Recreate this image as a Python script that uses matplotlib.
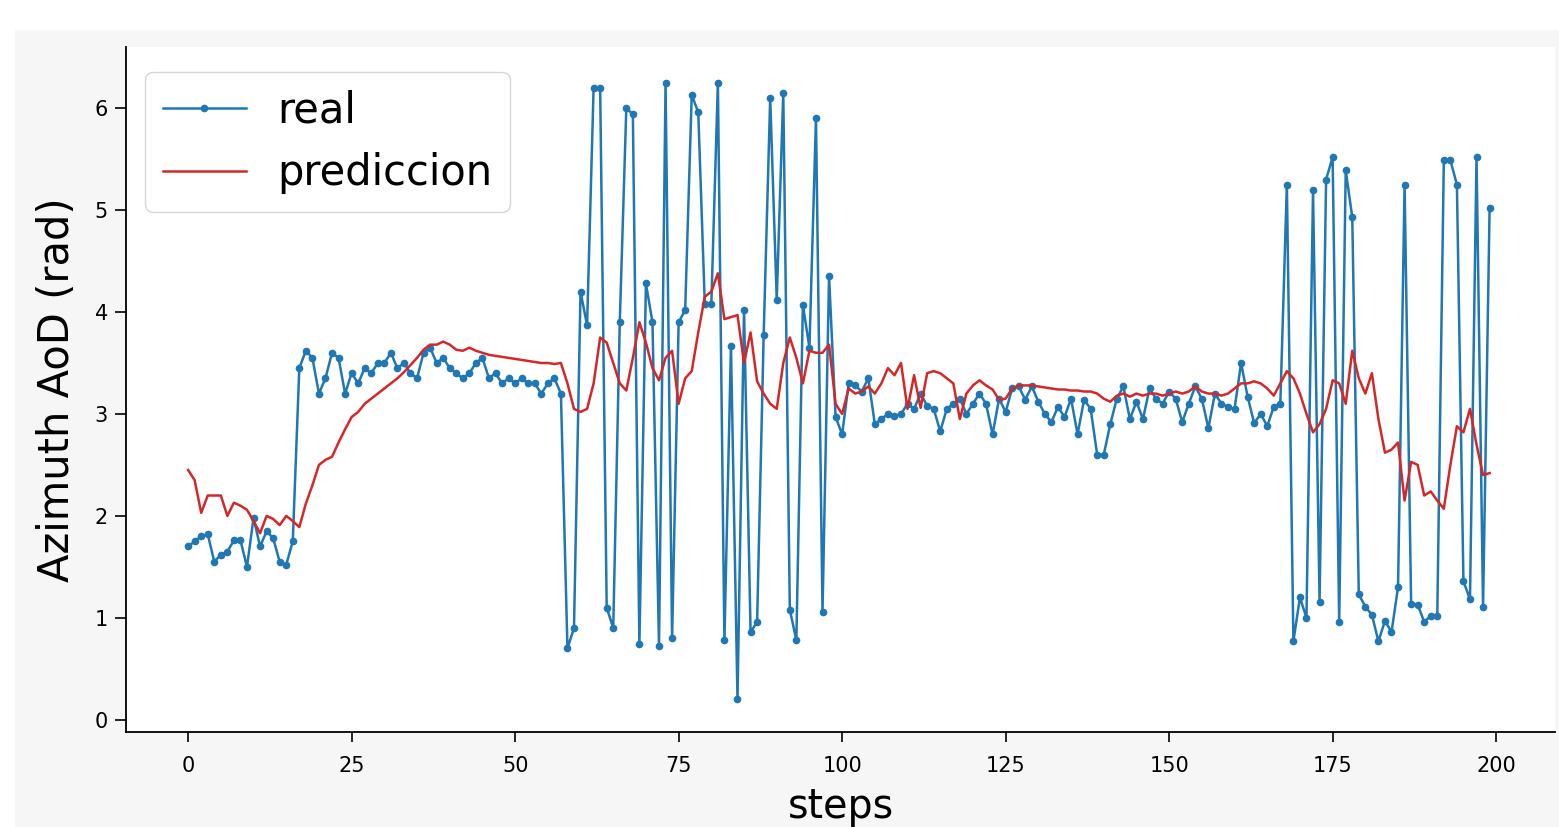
import matplotlib
matplotlib.use('Agg')
import matplotlib.pyplot as plt
from matplotlib.patches import Rectangle
import numpy as np

# ---- data ----
real_a = [1.70, 1.75, 1.80, 1.82, 1.55, 1.62, 1.65, 1.76, 1.76, 1.50, 1.98, 1.70, 1.85, 1.78, 1.55, 1.52, 1.75]
real_b = [3.45, 3.62, 3.55, 3.20, 3.35, 3.60, 3.55, 3.20, 3.40, 3.30, 3.45, 3.40, 3.50, 3.50, 3.60, 3.45,
          3.50, 3.40, 3.35, 3.60, 3.65, 3.50, 3.55, 3.45, 3.40, 3.35, 3.40, 3.50, 3.55, 3.35, 3.40, 3.30,
          3.35, 3.30, 3.35, 3.30, 3.30, 3.20, 3.30, 3.35, 3.20]
real_c = [0.70, 0.90, 4.20, 3.87, 6.20, 6.20, 1.10, 0.90, 3.90, 6.00, 5.94, 0.74, 4.28, 3.90, 0.72, 6.25,
          0.80, 3.90, 4.02, 6.13, 5.96, 4.08, 4.08, 6.25, 0.78, 3.67, 0.20, 4.02, 0.86, 0.96, 3.77, 6.10,
          4.12, 6.15, 1.08, 0.78, 4.07, 3.65, 5.90, 1.06, 4.35, 2.97, 2.80]
real_d = [3.30, 3.28, 3.22, 3.35, 2.90, 2.95, 3.00, 2.98, 3.00, 3.10, 3.05, 3.20, 3.08, 3.05, 2.83, 3.05,
          3.10, 3.15, 3.00, 3.10, 3.20, 3.10, 2.80, 3.15]
real_e = [3.02, 3.25, 3.27, 3.14, 3.27, 3.12, 3.00, 2.92, 3.07, 2.97, 3.15, 2.80, 3.14, 3.05, 2.60, 2.60,
          2.90, 3.15, 3.27, 2.95, 3.12, 2.95, 3.25, 3.15, 3.10, 3.22]
real_f = [3.15, 2.92, 3.10, 3.27, 3.15, 2.86, 3.20, 3.10, 3.07, 3.05, 3.50, 3.17, 2.91, 3.00, 2.88, 3.07, 3.10]
real_g = [5.25, 0.77, 1.20, 1.00, 5.20, 1.16, 5.30]
real_h = [5.52, 0.96, 5.39, 4.93, 1.23, 1.11, 1.03, 0.77, 0.97, 0.86, 1.30, 5.25, 1.14, 1.13, 0.96, 1.02,
          1.02, 5.49, 5.49, 5.25, 1.36, 1.18, 5.52, 1.11, 5.02]

pred_a = [2.45, 2.35, 2.03, 2.20, 2.20, 2.20, 2.00, 2.13, 2.10, 2.06, 1.95, 1.83, 2.00, 1.97, 1.91, 2.00, 1.95]
pred_b = [1.89, 2.12, 2.30, 2.50, 2.55, 2.58, 2.72, 2.85, 2.97, 3.02, 3.10, 3.15, 3.20, 3.25, 3.30, 3.35,
          3.41, 3.48, 3.55, 3.63, 3.68, 3.68, 3.71, 3.68, 3.63, 3.62, 3.65, 3.62, 3.60, 3.58, 3.57, 3.56,
          3.55, 3.54, 3.53, 3.52, 3.51, 3.50, 3.50, 3.49, 3.50]
pred_c = [3.30, 3.05, 3.02, 3.05, 3.30, 3.75, 3.70, 3.50, 3.30, 3.23, 3.55, 3.90, 3.70, 3.45, 3.33, 3.55,
          3.62, 3.10, 3.35, 3.42, 3.80, 4.15, 4.20, 4.38, 3.93, 3.95, 3.97, 3.50, 3.80, 3.32, 3.20, 3.10,
          3.05, 3.50, 3.75, 3.55, 3.30, 3.62, 3.60, 3.60, 3.68, 3.10, 3.00]
pred_d = [3.25, 3.20, 3.22, 3.27, 3.20, 3.30, 3.45, 3.38, 3.50, 3.05, 3.38, 3.06, 3.40, 3.42, 3.40, 3.35,
          3.30, 2.95, 3.20, 3.28, 3.33, 3.28, 3.24, 3.14]
pred_e = [3.15, 3.25, 3.28, 3.28, 3.28, 3.27, 3.26, 3.25, 3.24, 3.24, 3.23, 3.23, 3.22, 3.22, 3.20, 3.15,
          3.12, 3.18, 3.20, 3.17, 3.20, 3.18, 3.20, 3.20, 3.18]
pred_f = [3.20, 3.22, 3.20, 3.22, 3.27, 3.22, 3.20, 3.20, 3.18, 3.20, 3.25, 3.30, 3.30, 3.32, 3.30, 3.25,
          3.18, 3.30, 3.42, 3.35]
pred_g = [3.20, 3.00, 2.82, 2.90, 3.05, 3.33, 3.30, 3.10, 3.62, 3.35, 3.20, 3.40, 2.95, 2.62, 2.65, 2.72,
          2.15, 2.53, 2.50, 2.20, 2.24, 2.15, 2.07, 2.50, 2.88, 2.82, 3.05, 2.70, 2.40, 2.42]

real = real_a + real_b + real_c + real_d + real_e + real_f + real_g + real_h
pred = pred_a + pred_b + pred_c + pred_d + pred_e + pred_f + pred_g
steps = list(range(len(real)))

xticks = [0, 25, 50, 75, 100, 125, 150, 175, 200]
yticks = [0, 1, 2, 3, 4, 5, 6]

# ---- figure ----
W, H = 1559, 827
fig = plt.figure(figsize=(W / 100, H / 100), dpi=100, facecolor='#f6f6f6')
fig.patches.append(Rectangle((0, 1 - 30 / H), 1, 30 / H, transform=fig.transFigure,
                             facecolor='white', edgecolor='none', zorder=-5, figure=fig))
fig.patches.append(Rectangle((0, 0), 15 / W, 1, transform=fig.transFigure,
                             facecolor='white', edgecolor='none', zorder=-5, figure=fig))

ax = fig.add_axes([126 / W, 1 - 732 / H, (1555 - 126) / W, (732 - 47) / H])
ax.set_facecolor('white')

ax.plot(steps, real, '.-', color='#1f77b4', lw=1.8, ms=9, label='real')
ax.plot(steps[:len(pred)], pred, '-', color='#d62728', lw=1.8, label='prediccion')

ax.set_xlim(-9.5, 209)
ax.set_ylim(-0.12, 6.6)
ax.set_xticks(xticks)
ax.set_yticks(yticks)
ax.tick_params(axis='x', labelsize=15, length=7, width=1.2, pad=10)
ax.tick_params(axis='y', labelsize=15, length=8, width=1.2, pad=5)
for s in ['top', 'right']:
    ax.spines[s].set_visible(False)
for s in ['left', 'bottom']:
    ax.spines[s].set_linewidth(1.3)

ax.set_xlabel('steps', fontsize=28.5, labelpad=8)
ax.set_ylabel('Azimuth AoD (rad)', fontsize=30, labelpad=12)

ax.legend(loc='upper left', bbox_to_anchor=(19 / 1429, 1 - 25 / 685), borderaxespad=0,
          fontsize=30, handlelength=2.0, handletextpad=0.75, borderpad=0.42)

fig.savefig('out.png', dpi=100, facecolor=fig.get_facecolor())
